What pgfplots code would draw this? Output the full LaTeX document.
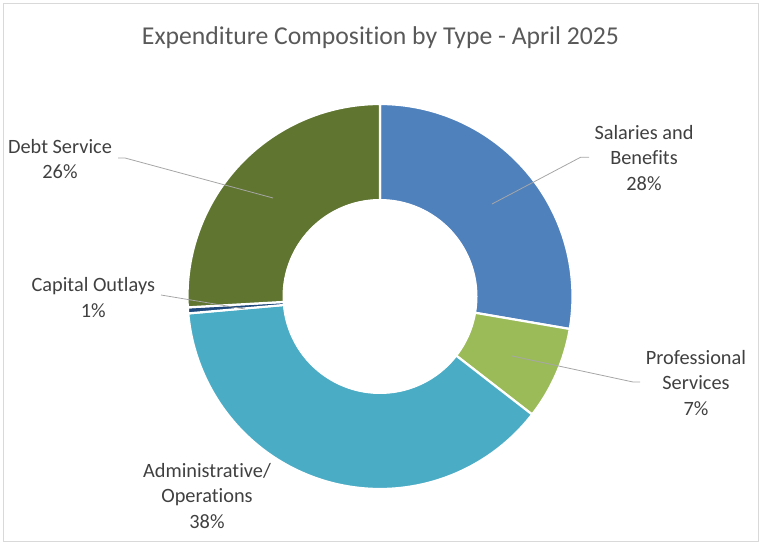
\documentclass[border=0pt]{standalone}
\usepackage{pgfplots}
\pgfplotsset{compat=1.18}
\usepackage{fontspec}
\setmainfont{Carlito}[Ligatures=NoCommon]
\definecolor{salc}{HTML}{4F81BD}
\definecolor{profc}{HTML}{9BBB59}
\definecolor{adminc}{HTML}{4BACC6}
\definecolor{capc}{HTML}{1F497D}
\definecolor{debtc}{HTML}{5F7530}
\definecolor{txt}{HTML}{404040}
\definecolor{ttl}{HTML}{595959}
\definecolor{lead}{HTML}{A6A6A6}
\definecolor{frame}{HTML}{D9D9D9}
% shares in percent
\def\vSal{27.7}
\def\vProf{7.8}
\def\vAdmin{38.1}
\def\vCap{0.5}
\def\vDebt{25.9}
\def\cx{380}
\def\cy{247.5}
\def\R{192.5}
\def\r{97}
\pgfmathsetmacro\aA{90}
\pgfmathsetmacro\aB{\aA-3.6*\vSal}
\pgfmathsetmacro\aC{\aB-3.6*\vProf}
\pgfmathsetmacro\aD{\aC-3.6*\vAdmin}
\pgfmathsetmacro\aE{\aD-3.6*\vCap}
\pgfmathsetmacro\aF{\aE-3.6*\vDebt}
\begin{document}
\begin{tikzpicture}
\begin{axis}[width=762bp, height=544bp, scale only axis,
  xmin=0, xmax=762, ymin=0, ymax=544, hide axis, clip=false,
  every axis plot/.append style={samples=120, variable=\t}]
\path[use as bounding box] (axis cs:0,0) rectangle (axis cs:762,544);
\draw[frame, line width=0.8bp] (axis cs:3,3) rectangle (axis cs:758.5,540.5);
\addplot[fill=salc, draw=white, line width=2.2bp, domain=\aB:\aA] ({\cx+\R*cos(\t)},{\cy+\R*sin(\t)}) -- (axis cs:\cx,\cy) -- cycle;
\addplot[fill=profc, draw=white, line width=2.2bp, domain=\aC:\aB] ({\cx+\R*cos(\t)},{\cy+\R*sin(\t)}) -- (axis cs:\cx,\cy) -- cycle;
\addplot[fill=adminc, draw=white, line width=2.2bp, domain=\aD:\aC] ({\cx+\R*cos(\t)},{\cy+\R*sin(\t)}) -- (axis cs:\cx,\cy) -- cycle;
\addplot[fill=capc, draw=white, line width=2.2bp, domain=\aE:\aD, samples=5] ({\cx+\R*cos(\t)},{\cy+\R*sin(\t)}) -- (axis cs:\cx,\cy) -- cycle;
\addplot[fill=debtc, draw=white, line width=2.2bp, domain=\aF:\aE] ({\cx+\R*cos(\t)},{\cy+\R*sin(\t)}) -- (axis cs:\cx,\cy) -- cycle;
\addplot[fill=white, draw=white, line width=1bp, domain=0:360] ({\cx+\r*cos(\t)},{\cy+\r*sin(\t)}) -- cycle;
% leader lines
\draw[lead, line width=0.8bp] (axis cs:492,340) -- (axis cs:580.5,386.7) -- (axis cs:589,386.7);
\draw[lead, line width=0.8bp] (axis cs:512,188) -- (axis cs:633,162) -- (axis cs:640,162);
\draw[lead, line width=0.8bp] (axis cs:161,249) -- (axis cs:245,235);
\draw[lead, line width=0.8bp] (axis cs:118,386) -- (axis cs:125,386) -- (axis cs:273,346);
% title and labels
\node[ttl, font=\fontsize{25.8}{31}\selectfont] at (axis cs:380.5,506) {Expenditure Composition by Type - April 2025};
\begin{scope}[every node/.style={txt, align=center, font=\fontsize{20.4}{25.7}\selectfont}]
\node at (axis cs:644,386) {Salaries and\\Benefits\\28\%};
\node at (axis cs:696,161) {Professional\\Services\\7\%};
\node at (axis cs:207,48) {Administrative/\\Operations\\38\%};
\node at (axis cs:93.3,246.5) {Capital Outlays\\1\%};
\node at (axis cs:60,385) {Debt Service\\26\%};
\end{scope}
\end{axis}
\end{tikzpicture}
\end{document}
